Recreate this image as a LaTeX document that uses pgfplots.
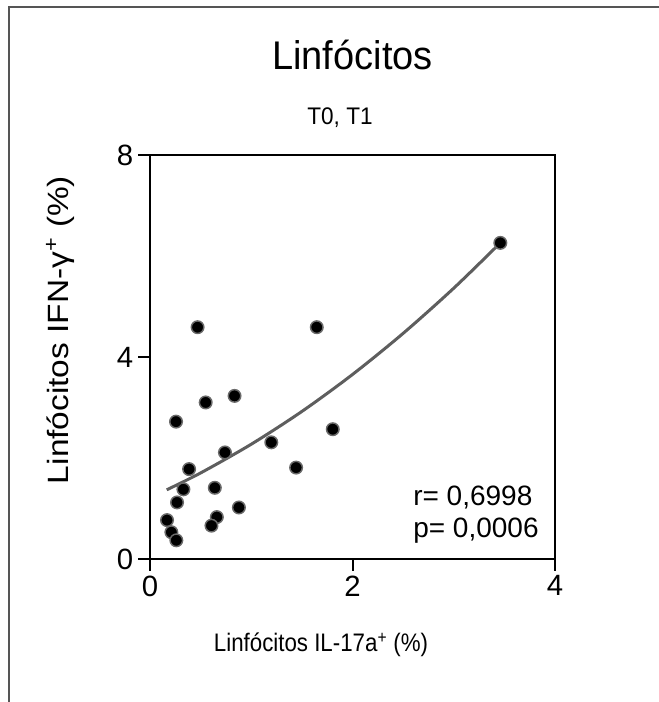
\documentclass[border=0pt]{standalone}
\usepackage{fontspec}
\setmainfont{Liberation Sans}
\usepackage{pgfplots}
\pgfplotsset{compat=1.18}
\definecolor{fitgray}{HTML}{5E5E5E}
\definecolor{edgegray}{HTML}{6A6A6A}
\definecolor{framegray}{HTML}{555555}
\begin{document}
\begin{tikzpicture}
\useasboundingbox (0,0) rectangle (494.25pt,526.5pt);
\draw[framegray, line width=1.5pt] (6.75pt,0) -- (6.75pt,521.25pt) -- (494.25pt,521.25pt);
\begin{axis}[
 at={(112.5pt,107.25pt)}, anchor=south west,
 scale only axis, width=303.75pt, height=303pt,
 xmin=0, xmax=4, ymin=0, ymax=8,
 xtick={0,2,4}, ytick={0,4,8},
 xtick pos=bottom, ytick pos=left, tick align=outside,
 major tick length=9pt,
 axis line style={line width=1.5pt},
 every tick/.style={black, line width=1.5pt},
 tick label style={font=\fontsize{22}{25}\selectfont},
 /pgf/number format/assume math mode=true,
 clip=false,
]
\addplot[fitgray, line width=2.25pt, smooth] coordinates {
 (0.165,1.37) (0.5,1.704) (1.0,2.273) (1.5,2.922) (2.0,3.654) (2.5,4.468) (3.0,5.363) (3.46,6.26)
};
\addplot[only marks, mark=*, mark size=4.7pt, mark options={fill=black, draw=edgegray, line width=1.1pt}] coordinates {
 (0.47,4.59) (1.647,4.59) (0.835,3.23) (0.55,3.10) (0.257,2.72) (1.198,2.31) (0.74,2.11)
 (1.805,2.57) (1.443,1.81) (0.386,1.78) (0.33,1.38) (0.64,1.41) (0.267,1.12) (0.878,1.02)
 (0.168,0.77) (0.66,0.83) (0.607,0.66) (0.211,0.53) (0.26,0.37) (3.46,6.26)
};
\end{axis}
\node[anchor=base, font=\fontsize{30}{34}\selectfont] at (264.4pt,474pt) {\scalebox{0.95}[1]{Linfócitos}};
\node[anchor=base, font=\fontsize{18}{20}\selectfont] at (255pt,432.75pt) {\scalebox{0.94}[1]{T0, T1}};
\node[anchor=base, font=\fontsize{19}{22}\selectfont] at (240.75pt,37.5pt) {\scalebox{0.88}[1]{Linfócitos IL-17a\textsuperscript{+} (\%)}};
\node[anchor=base, rotate=90, font=\fontsize{22}{25}\selectfont] at (51pt,279pt) {\scalebox{1.14}[1]{Linfócitos IFN-γ\textsuperscript{+} (\%)}};
\node[anchor=base west, inner sep=0pt, font=\fontsize{21}{24}\selectfont] at (309.75pt,147pt) {r= 0,6998};
\node[anchor=base west, inner sep=0pt, font=\fontsize{21}{24}\selectfont] at (309.75pt,123pt) {p= 0,0006};
\end{tikzpicture}
\end{document}
